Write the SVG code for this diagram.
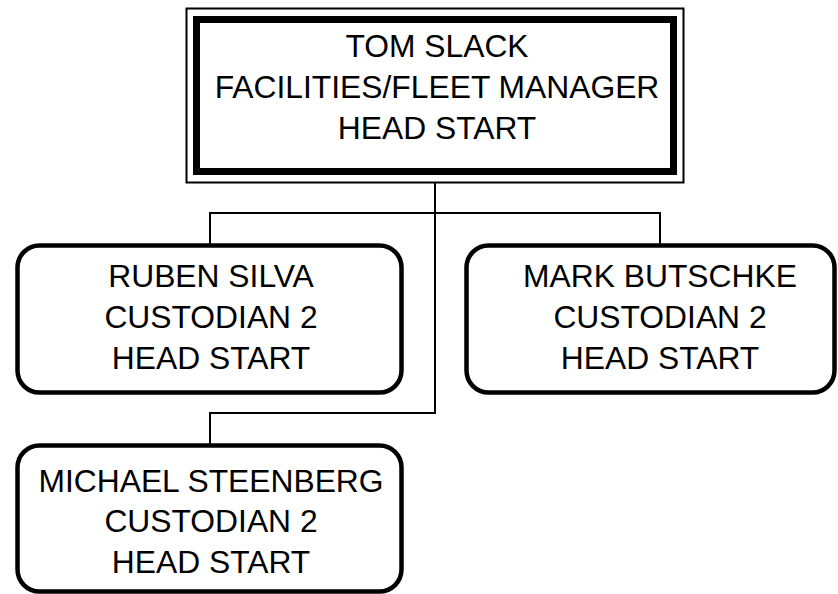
<svg xmlns="http://www.w3.org/2000/svg" width="838" height="594" viewBox="0 0 838 594">
<style>
.t{font-family:"Liberation Sans",Arial,sans-serif;font-size:31.8px;fill:#000;text-anchor:middle}
.box{fill:#fff;stroke:#000;stroke-width:4.5}
.ln{fill:none;stroke:#000;stroke-width:2}
</style>
<rect width="838" height="594" fill="#fff"/>
<g id="connectors">
<path class="ln" d="M435 183 V413 H210 V445"/>
<path class="ln" d="M210 245 V213 H660 V245"/>
</g>
<g id="tom">
<rect x="186.5" y="8.5" width="497" height="174" fill="#fff" stroke="#000" stroke-width="2"/>
<rect x="196.5" y="19.5" width="477" height="152" fill="#fff" stroke="#000" stroke-width="7"/>
<text class="t" x="437" y="56.5">TOM SLACK</text>
<text class="t" x="437" y="97.5">FACILITIES/FLEET MANAGER</text>
<text class="t" x="437" y="138.5">HEAD START</text>
</g>
<g id="ruben">
<rect class="box" x="17.5" y="245.5" width="384" height="147" rx="22"/>
<text class="t" x="211" y="286.5">RUBEN SILVA</text>
<text class="t" x="211" y="327.5">CUSTODIAN 2</text>
<text class="t" x="211" y="368.5">HEAD START</text>
</g>
<g id="mark">
<rect class="box" x="466.5" y="245.5" width="368" height="147" rx="22"/>
<text class="t" x="660" y="286.5">MARK BUTSCHKE</text>
<text class="t" x="660" y="327.5">CUSTODIAN 2</text>
<text class="t" x="660" y="368.5">HEAD START</text>
</g>
<g id="michael">
<rect class="box" x="17.5" y="445.5" width="384" height="146" rx="22"/>
<text class="t" x="211" y="491.5">MICHAEL STEENBERG</text>
<text class="t" x="211" y="532">CUSTODIAN 2</text>
<text class="t" x="211" y="573">HEAD START</text>
</g>
</svg>
